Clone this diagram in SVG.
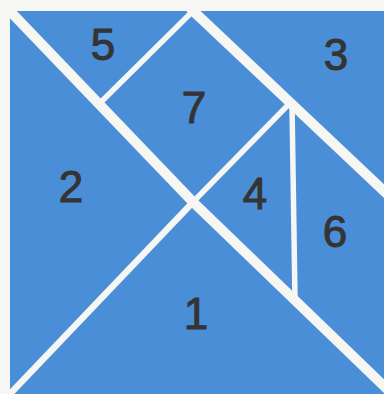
<svg xmlns="http://www.w3.org/2000/svg" width="384" height="394" viewBox="0 0 384 394">
  <style>
    .piece { fill: #4a8ed8; }
    .cut { stroke: #f6f6f3; stroke-linecap: butt; fill: none; }
    .thick { stroke-width: 10; }
    .thin { stroke-width: 5.5; }
    .mid { stroke-width: 6.5; }
    .num { font-family: "Liberation Sans", Arial, sans-serif; font-size: 44px; fill: #343434; stroke: #343434; stroke-width: 1; text-anchor: middle; }
  </style>
  <rect x="0" y="0" width="384" height="394" fill="#f6f6f3"/>
  <g id="piece-5"><polygon class="piece" points="10,11 193,11 100,103"/><text class="num" x="103" y="60">5</text></g>
  <g id="piece-7"><polygon class="piece" points="193,11 290,103 193,202 100,103"/><text class="num" x="194" y="123">7</text></g>
  <g id="piece-3"><polygon class="piece" points="193,11 384,11 384,191"/><text class="num" x="336" y="70">3</text></g>
  <g id="piece-2"><polygon class="piece" points="10,11 193,202 10,394"/><text class="num" x="71" y="202">2</text></g>
  <g id="piece-1"><polygon class="piece" points="10,394 193,202 384,386 384,394"/><text class="num" x="196" y="329">1</text></g>
  <g id="piece-4"><polygon class="piece" points="290,103 295,300 193,202"/><text class="num" x="255" y="209">4</text></g>
  <g id="piece-6"><polygon class="piece" points="290,103 384,191 384,386 295,300"/><text class="num" x="335" y="247">6</text></g>
  <g id="cuts">
    <line class="cut thick" x1="6" y1="7" x2="193" y2="202"/>
    <line class="cut thick" x1="193" y1="202" x2="388" y2="390"/>
    <line class="cut thick" x1="190" y1="8" x2="388" y2="195"/>
    <line class="cut thin" x1="196" y1="8" x2="100" y2="103"/>
    <line class="cut thin" x1="193" y1="202" x2="290" y2="103"/>
    <line class="cut thin" x1="292" y1="104" x2="295" y2="300"/>
    <line class="cut mid" x1="196" y1="199" x2="8" y2="396"/>
  </g>
</svg>
